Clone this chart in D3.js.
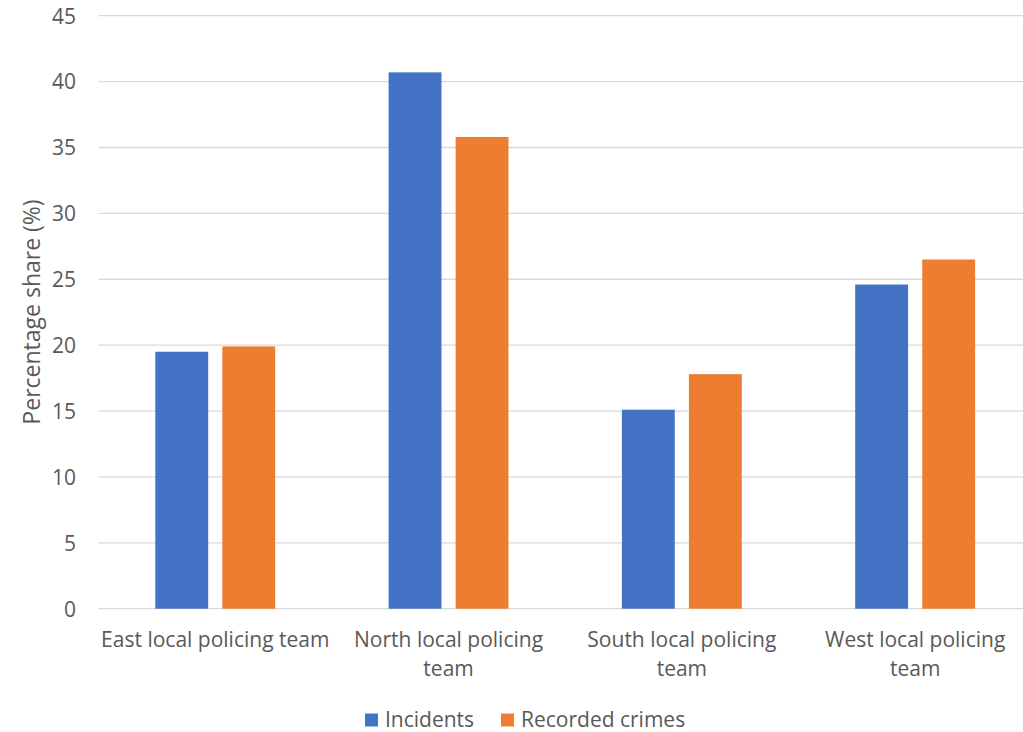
<!DOCTYPE html>
<html><head><meta charset="utf-8">
<script src="https://cdn.jsdelivr.net/npm/d3@7"></script>
<style>body{margin:0;background:#fff;overflow:hidden}svg{display:block}text{font-family:"Open Sans",sans-serif;fill:#595959}</style>
</head><body>
<script>
const categories = ["East local policing team","North local policing team","South local policing team","West local policing team"];
const seriesNames = ["Incidents","Recorded crimes"];
const incidents = [19.5, 40.7, 15.1, 24.6];
const recordedCrimes = [19.9, 35.8, 17.8, 26.5];
const yTicks = [0,5,10,15,20,25,30,35,40,45];
const colors = ["#4472C4","#ED7D31"];

const W=1023,H=732;
const plotLeft=98.6, plotRight=1031.8, plotTop=15.7, plotBottom=608.7;
const svg=d3.select("body").append("svg").attr("width",W).attr("height",H);
const y=d3.scaleLinear().domain([0,45]).range([plotBottom,plotTop]);
const x0=d3.scaleBand().domain(categories).range([plotLeft,plotRight]).padding(0);
const x1=d3.scaleBand().domain(seriesNames).range([0,x0.bandwidth()]).paddingInner(0.211).paddingOuter(0.846);

// gridlines
svg.append("g").selectAll("line").data(yTicks).join("line")
  .attr("x1",plotLeft).attr("x2",plotRight)
  .attr("y1",d=>y(d)).attr("y2",d=>y(d))
  .attr("stroke","#d9d9d9").attr("stroke-width",1.3);

// y axis labels
const yAxis=d3.axisLeft(y).tickValues(yTicks).tickSize(0).tickPadding(0);
const ya=svg.append("g").attr("transform",`translate(${76},0)`).call(yAxis);
ya.select(".domain").remove();
ya.selectAll("text").attr("font-size",21).attr("font-family","Open Sans, sans-serif").attr("fill","#595959").attr("dy","0.35em");

// bars
const data=categories.map((c,i)=>({c,vals:[incidents[i],recordedCrimes[i]]}));
const g=svg.append("g");
data.forEach(d=>{
  g.append("g").attr("transform",`translate(${x0(d.c)},0)`)
   .selectAll("rect").data(d.vals.map((v,j)=>({s:seriesNames[j],v,j}))).join("rect")
   .attr("x",e=>x1(e.s)).attr("width",x1.bandwidth())
   .attr("y",e=>y(e.v)).attr("height",e=>y(0)-y(e.v))
   .attr("fill",e=>colors[e.j]);
});

// x axis labels with wrap
const xa=svg.append("g").attr("transform",`translate(0,${y(0)})`).call(d3.axisBottom(x0).tickSize(0).tickPadding(0));
xa.select(".domain").remove();
xa.selectAll("text").attr("font-size",21).attr("font-family","Open Sans, sans-serif").attr("fill","#595959")
  .attr("y",38).attr("dy",0).each(function(){
    const t=d3.select(this);const words=t.text().split(" ");t.text(null);
    let line=[],lineNo=0;let ts=t.append("tspan").attr("x",0).attr("y",38);
    for(const w of words){
      line.push(w);ts.text(line.join(" "));
      if(ts.node().getComputedTextLength()>232 && line.length>1){
        line.pop();ts.text(line.join(" "));line=[w];lineNo++;
        ts=t.append("tspan").attr("x",0).attr("y",38+lineNo*29).text(w);
      }
    }
  });

// y title
svg.append("text").attr("transform",`translate(40,312) rotate(-90)`)
  .attr("text-anchor","middle").attr("font-size",23).text("Percentage share (%)");

// legend
const lg=svg.append("g").attr("transform","translate(0,720)");
const items=[{n:"Incidents",x:365,c:colors[0]},{n:"Recorded crimes",x:501,c:colors[1]}];
items.forEach(it=>{
  lg.append("rect").attr("x",it.x).attr("y",-6.5).attr("width",13).attr("height",13).attr("fill",it.c);
  lg.append("text").attr("x",it.x+20).attr("y",0).attr("dy","0.35em").attr("font-size",21).text(it.n);
});
</script>
</body></html>
